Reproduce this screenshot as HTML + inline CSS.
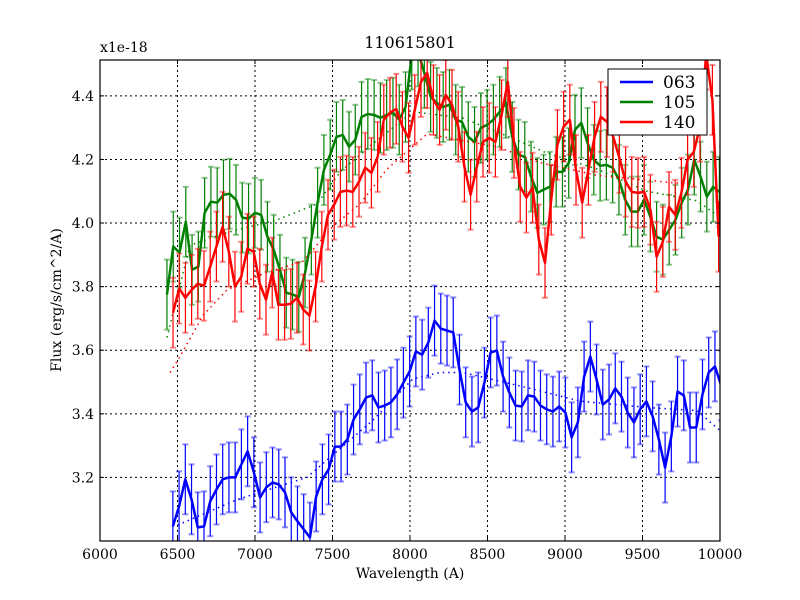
<!DOCTYPE html>
<html><head><meta charset="utf-8"><style>
html,body{margin:0;padding:0;background:#fff;}
svg{display:block;font-family:"DejaVu Serif","Liberation Serif",serif;}
</style></head><body>
<svg id="chart" width="800" height="600" xmlns="http://www.w3.org/2000/svg">
<rect width="800" height="600" fill="#fff"/>
<g id="grid"></g>
<g id="plot"></g>
<rect x="100" y="60" width="620" height="481" fill="none" stroke="#000" stroke-width="1.2"/>
<g id="axes"></g>
<text x="410" y="48" font-size="16" text-anchor="middle">110615801</text>
<text x="100" y="52" font-size="14">x1e-18</text>
<text x="410" y="578" font-size="14" text-anchor="middle">Wavelength (A)</text>
<text x="0" y="0" font-size="14" text-anchor="middle" transform="translate(61,300) rotate(-90)">Flux (erg/s/cm^2/A)</text>
<g>
<rect x="608" y="69" width="99" height="66" fill="#fff" stroke="#000" stroke-width="1"/>
<line x1="620" y1="82" x2="653" y2="82" stroke="#0000ff" stroke-width="2.5"/>
<text x="663" y="88" font-size="17">063</text>
<line x1="620" y1="102" x2="653" y2="102" stroke="#008000" stroke-width="2.5"/>
<text x="663" y="108" font-size="17">105</text>
<line x1="620" y1="122" x2="653" y2="122" stroke="#ff0000" stroke-width="2.5"/>
<text x="663" y="128" font-size="17">140</text>
</g>
</svg>
<script>
const xTicks = [6000,6500,7000,7500,8000,8500,9000,9500,10000];
const yTicks = [3.2,3.4,3.6,3.8,4.0,4.2,4.4];
const yTickLabels = ["3.2","3.4","3.6","3.8","4.0","4.2","4.4"];
const blueStart = 6470, blueStep = 40.2;
const blueFlux = [3.046,3.109,3.194,3.131,3.043,3.046,3.125,3.162,3.194,3.200,3.200,3.241,3.282,3.216,3.137,3.169,3.184,3.178,3.153,3.090,3.062,3.037,3.011,3.140,3.194,3.225,3.297,3.297,3.319,3.382,3.414,3.451,3.458,3.420,3.426,3.436,3.461,3.498,3.533,3.596,3.586,3.624,3.693,3.668,3.662,3.656,3.539,3.436,3.407,3.420,3.498,3.593,3.599,3.517,3.467,3.426,3.423,3.458,3.454,3.426,3.414,3.407,3.423,3.404,3.326,3.373,3.517,3.580,3.508,3.429,3.445,3.480,3.454,3.404,3.373,3.414,3.439,3.392,3.319,3.231,3.329,3.470,3.458,3.357,3.357,3.461,3.530,3.549,3.489];
const blueErr = 0.11;
const greenStart = 6432, greenStep = 40.5;
const greenFlux = [3.775,3.926,3.907,4.004,3.853,3.863,4.032,4.067,4.064,4.089,4.092,4.073,4.017,4.014,4.032,4.026,3.957,3.916,3.853,3.781,3.775,3.768,3.844,3.948,4.064,4.167,4.215,4.271,4.277,4.240,4.262,4.334,4.343,4.340,4.331,4.340,4.347,4.325,4.365,4.53,4.54,4.472,4.397,4.378,4.365,4.372,4.325,4.318,4.271,4.255,4.299,4.309,4.325,4.350,4.378,4.271,4.215,4.208,4.146,4.095,4.105,4.114,4.161,4.161,4.189,4.293,4.315,4.252,4.199,4.180,4.183,4.174,4.136,4.073,4.036,4.036,4.073,4.020,3.957,3.948,3.979,4.010,4.064,4.105,4.199,4.146,4.083,4.114,4.098];
const greenErr = 0.11;
const redStart = 6471, redStep = 40.0;
const redFlux = [3.718,3.794,3.765,3.790,3.809,3.803,3.863,3.926,3.988,3.910,3.800,3.831,3.919,3.910,3.809,3.759,3.844,3.743,3.743,3.746,3.765,3.728,3.709,3.800,3.926,4.026,4.058,4.098,4.102,4.098,4.130,4.174,4.158,4.208,4.325,4.347,4.359,4.303,4.268,4.356,4.444,4.472,4.387,4.356,4.403,4.372,4.303,4.177,4.089,4.177,4.255,4.268,4.255,4.340,4.444,4.252,4.114,4.080,4.111,3.948,3.875,4.073,4.246,4.303,4.325,4.167,4.064,4.167,4.271,4.334,4.318,4.271,4.205,4.130,4.098,4.095,4.098,4.042,3.894,3.941,4.051,4.026,4.095,4.199,4.224,4.303,4.53,4.387,3.957];
const redErr = 0.11;
const blueModelWl = [6500,6884,7013,7335,7548,7761,8019,8194,8342,8516,8774,9097,9529,9852,9994];
const blueModelFlux = [3.05,3.13,3.15,3.20,3.29,3.38,3.51,3.53,3.53,3.51,3.48,3.44,3.42,3.41,3.35];
const greenModelWl = [6432,6581,6819,7142,7400,7548,7761,8019,8342,8645,8884,9206,9529,9852,9994];
const greenModelFlux = [3.64,3.93,3.97,4.01,4.06,4.16,4.25,4.35,4.33,4.27,4.22,4.17,4.10,4.07,4.02];
const redModelWl = [6452,6516,6665,6819,7052,7310,7503,7677,7852,8110,8561,8839,9206,9632,9852];
const redModelFlux = [3.53,3.58,3.71,3.79,3.84,3.88,3.99,4.06,4.17,4.28,4.24,4.19,4.15,4.13,4.12];

const L=100,R=720,T=60,B=541, X0=6000,X1=10000, Y0=3.0,Y1=4.5128;
function xs(v){return L+(v-X0)/(X1-X0)*(R-L);}
function ys(v){return B-(v-Y0)/(Y1-Y0)*(B-T);}
const NS="http://www.w3.org/2000/svg";
function mk(tag,attrs,parent){const e=document.createElementNS(NS,tag);for(const k in attrs)e.setAttribute(k,attrs[k]);parent.appendChild(e);return e;}
const grid=document.getElementById('grid'), axes=document.getElementById('axes'), plot=document.getElementById('plot');
xTicks.forEach(function(t,i){
  const x=xs(t);
  if(i>0&&i<xTicks.length-1){const g=mk('line',{x1:x,y1:T,x2:x,y2:B,stroke:'#000','stroke-width':1,'stroke-dasharray':'2,3'},grid);
  
  }
  mk('line',{x1:x,y1:B,x2:x,y2:B-4,stroke:'#000'},axes);
  mk('line',{x1:x,y1:T,x2:x,y2:T+4,stroke:'#000'},axes);
  const tx=mk('text',{x:x,y:B+18,'font-size':14,'text-anchor':'middle'},axes);
  tx.textContent=t;
  
  
});
yTicks.forEach(function(t,i){
  const y=ys(t);
  const g=mk('line',{x1:L,y1:y,x2:R,y2:y,stroke:'#000','stroke-width':1,'stroke-dasharray':'2,3'},grid);
  
  
  mk('line',{x1:L,y1:y,x2:L+4,y2:y,stroke:'#000'},axes);
  mk('line',{x1:R,y1:y,x2:R-4,y2:y,stroke:'#000'},axes);
  const tx=mk('text',{x:L-6,y:y+5,'font-size':14,'text-anchor':'end'},axes);
  tx.textContent=yTickLabels[i];
  
  
});
const clip=mk('clipPath',{id:'pc'},mk('defs',{},plot));
mk('rect',{x:L,y:T,width:R-L,height:B-T},clip);
const pg=mk('g',{'clip-path':'url(#pc)'},plot);
function series(name,color,start,step,flux,err,mwl,mflux){
  const g=mk('g',{},pg);
  
  
  mk('polyline',{points:mwl.map(function(w,i){return xs(w)+','+ys(mflux[i]);}).join(' '),fill:'none',stroke:color,'stroke-width':1.5,'stroke-dasharray':'1.5,4'},g);
  flux.forEach(function(f,i){
    const x=xs(start+i*step);
    const e=mk('line',{x1:x,y1:ys(f-err),x2:x,y2:ys(f+err),stroke:color,'stroke-width':1.2},g);
    
    
    mk('line',{x1:x-3,y1:ys(f-err),x2:x+3,y2:ys(f-err),stroke:color,'stroke-opacity':0.45,'stroke-width':2},g);
    mk('line',{x1:x-3,y1:ys(f+err),x2:x+3,y2:ys(f+err),stroke:color,'stroke-opacity':0.45,'stroke-width':2},g);
  });
  const ln=mk('polyline',{points:flux.map(function(f,i){return xs(start+i*step)+','+ys(f);}).join(' '),fill:'none',stroke:color,'stroke-width':2.5,'stroke-linejoin':'round'},g);
  
  
}
series('063','#0000ff',blueStart,blueStep,blueFlux,blueErr,blueModelWl,blueModelFlux);
series('105','#008000',greenStart,greenStep,greenFlux,greenErr,greenModelWl,greenModelFlux);
series('140','#ff0000',redStart,redStep,redFlux,redErr,redModelWl,redModelFlux);
</script>
</body></html>
